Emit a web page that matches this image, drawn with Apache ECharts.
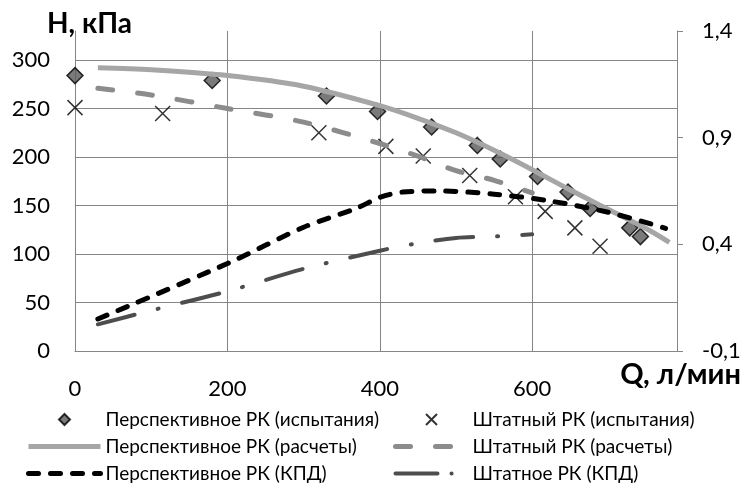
<!DOCTYPE html>
<html>
<head>
    <meta charset="utf-8">
    <title>Напорные характеристики</title>
    <script src="https://cdn.jsdelivr.net/npm/echarts@6/dist/echarts.min.js"></script>
    <style>
        html, body { margin: 0; padding: 0; background: #fff; }
        #chart1 { width: 744px; height: 501px; }
    </style>
</head>
<body>
<div id="chart1"></div>
<script type="text/javascript">
    // испытания
    var qTestNew = [0, 180, 330, 397, 468, 528, 558, 607, 647, 676, 728, 742];
    var hTestNew = [284, 279, 263, 247, 231, 212, 198, 180, 164, 147, 127, 118];
    var qTestOld = [0, 115, 320, 408, 457, 518, 578, 617, 656, 689];
    var hTestOld = [251, 245, 225, 211, 201, 181, 159, 144, 127, 108];

    // расчеты
    var qCalcNew = [30, 100, 200, 300, 400, 450, 500, 550, 600, 650, 700, 750, 780];
    var hCalcNew = [292, 290, 284, 273, 253, 240, 225, 207, 187, 166, 146, 126, 112];
    var qCalcOld = [30, 100, 200, 300, 400, 450, 500, 550, 600];
    var hCalcOld = [271, 264, 250, 236, 214, 201, 186, 176, 163];

    // КПД
    var qEffNew = [30, 200, 300, 370, 400, 430, 480, 550, 620, 700, 775];
    var effNew = [0.05, 0.31, 0.48, 0.57, 0.62, 0.645, 0.65, 0.635, 0.605, 0.55, 0.475];
    var qEffOld = [30, 100, 200, 300, 400, 450, 500, 550, 600];
    var effOld = [0.025, 0.09, 0.18, 0.285, 0.37, 0.405, 0.43, 0.437, 0.447];

    var names = [
        'Перспективное РК (испытания)',
        'Штатный РК (испытания)',
        'Перспективное РК (расчеты)',
        'Штатный РК (расчеты)',
        'Перспективное РК (КПД)',
        'Штатное РК (КПД)'
    ];

    function pairs(xs, ys) {
        return xs.map(function (x, i) { return [x, ys[i]]; });
    }

    var axisGrey = '#868686';
    var font = 'Lato, "Open Sans", sans-serif';
    var noSymbol = { color: 'rgba(0,0,0,0)', borderColor: 'rgba(0,0,0,0)', borderWidth: 0 };
    var diamondIcon = 'path://M5,0L10,5L5,10L0,5Z';
    var crossIcon = 'path://M0,0L10,10M10,0L0,10';

    var legendBase = {
        orient: 'vertical', top: 404, itemGap: 6,
        itemWidth: 72, itemHeight: 11,
        textStyle: { fontFamily: font, fontSize: 19, lineHeight: 21, color: '#000' }
    };

    var myChart1 = echarts.init(document.getElementById('chart1'));

    myChart1.setOption({
        animation: false,
        backgroundColor: '#fff',
        grid: { left: 75, right: 67, top: 31, bottom: 150 },
        graphic: [
            { type: 'text', left: 47, top: 10, style: { text: 'H, кПа', font: 'bold 28px ' + font, fill: '#000' } },
            { type: 'text', right: 3, top: 360, style: { text: 'Q, л/мин', font: 'bold 29px ' + font, fill: '#000' } }
        ],
        legend: [
            echarts.util.merge({
                left: 21,
                data: [
                    { name: names[0], icon: diamondIcon },
                    { name: names[2], itemStyle: noSymbol, lineStyle: { width: 5 } },
                    { name: names[4], itemStyle: noSymbol, lineStyle: { width: 5 } }
                ]
            }, legendBase),
            echarts.util.merge({
                left: 388,
                data: [
                    { name: names[1], icon: crossIcon },
                    { name: names[3], itemStyle: noSymbol, lineStyle: { width: 5 } },
                    { name: names[5], itemStyle: noSymbol, lineStyle: { width: 4, type: [42, 14, 0.1, 60] } }
                ]
            }, legendBase)
        ],
        xAxis: {
            type: 'value', min: 0, max: 790, interval: 200,
            axisLine: { show: true, lineStyle: { color: axisGrey, width: 1 } },
            axisTick: { show: false },
            axisLabel: { showMaxLabel: false, margin: 27, fontFamily: font, fontSize: 22, color: '#000' },
            splitLine: { show: true, showMinLine: false, showMaxLine: false, lineStyle: { color: axisGrey, width: 1 } }
        },
        yAxis: [
            {
                type: 'value', min: 0, max: 330, interval: 50,
                axisLine: { show: true, lineStyle: { color: axisGrey, width: 1 } },
                axisTick: { show: false },
                axisLabel: { showMaxLabel: false, margin: 25, fontFamily: font, fontSize: 22, color: '#000' },
                splitLine: { show: true, showMinLine: false, showMaxLine: false, lineStyle: { color: axisGrey, width: 1 } }
            },
            {
                type: 'value', position: 'right', min: -0.1, max: 1.4, interval: 0.5,
                axisLine: { show: true, lineStyle: { color: axisGrey, width: 1 } },
                axisTick: { show: true, inside: false, length: 6, lineStyle: { color: axisGrey } },
                axisLabel: {
                    margin: 25, fontFamily: font, fontSize: 22, color: '#000',
                    formatter: function (v) { return v.toFixed(1).replace('.', ','); }
                },
                splitLine: { show: false }
            }
        ],
        series: [
            {
                name: names[0], type: 'scatter', symbol: 'diamond', symbolSize: 16,
                itemStyle: { color: '#595959', borderColor: '#000', borderWidth: 1.5 },
                data: pairs(qTestNew, hTestNew)
            },
            {
                name: names[1], type: 'scatter', symbol: crossIcon, symbolSize: 15,
                itemStyle: { color: 'transparent', borderColor: '#000', borderWidth: 1.5 },
                data: pairs(qTestOld, hTestOld)
            },
            {
                name: names[2], type: 'line', smooth: 0.3, symbol: 'none',
                lineStyle: { color: '#a6a6a6', width: 5 },
                itemStyle: { color: '#a6a6a6' },
                data: pairs(qCalcNew, hCalcNew)
            },
            {
                name: names[3], type: 'line', smooth: 0.3, symbol: 'none',
                lineStyle: { color: '#8c8c8c', width: 5, type: [15, 25], cap: 'round' },
                itemStyle: { color: '#8c8c8c' },
                data: pairs(qCalcOld, hCalcOld)
            },
            {
                name: names[4], type: 'line', smooth: 0.3, symbol: 'none', yAxisIndex: 1,
                lineStyle: { color: '#000', width: 5, type: [10, 12], cap: 'round' },
                itemStyle: { color: '#000' },
                data: pairs(qEffNew, effNew)
            },
            {
                name: names[5], type: 'line', smooth: 0.3, symbol: 'none', yAxisIndex: 1,
                lineStyle: { color: '#4d4d4d', width: 4, type: [38, 24, 1, 24], cap: 'round' },
                itemStyle: { color: '#4d4d4d' },
                data: pairs(qEffOld, effOld)
            }
        ]
    });
</script>
</body>
</html>
